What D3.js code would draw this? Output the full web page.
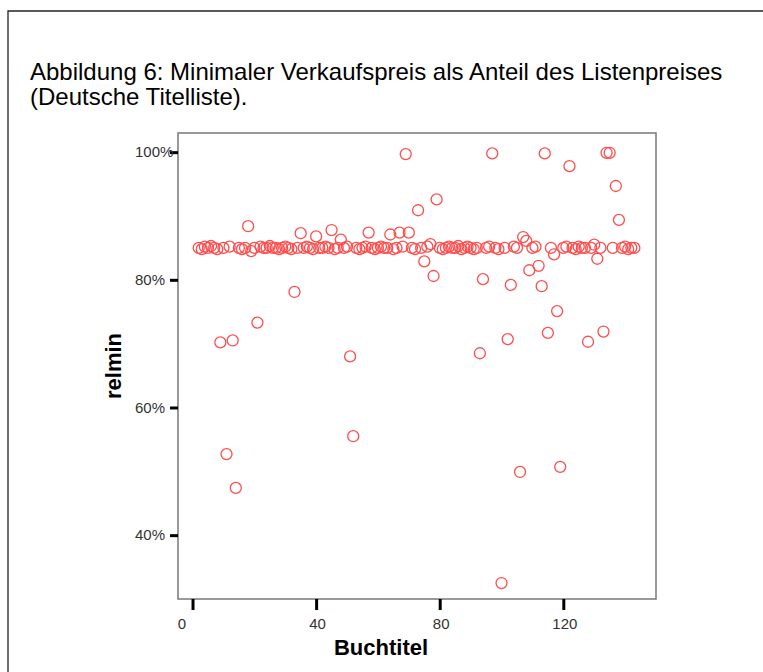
<!DOCTYPE html>
<html>
<head>
<meta charset="utf-8">
<script src="https://cdn.jsdelivr.net/npm/d3@7"></script>
<style>
  html, body { margin: 0; padding: 0; background: #fff; }
  svg { display: block; }
</style>
</head>
<body>
<svg id="chart" width="763" height="672"></svg>
<script>
// ---- data ----
const titleLines = [
  "Abbildung 6: Minimaler Verkaufspreis als Anteil des Listenpreises",
  "(Deutsche Titelliste)."
];
const xTicks = [0, 40, 80, 120];
const yTicks = [0.4, 0.6, 0.8, 1.0];
const xLabel = "Buchtitel";
const yLabel = "relmin";
const firstTitle = 2;
// relmin for Buchtitel 2 .. 143 (rows of 10)
const relmin = [
  0.850, 0.848, 0.852, 0.850, 0.853, 0.850, 0.848, 0.702, 0.850, 0.527, // 2-11
  0.852, 0.705, 0.474, 0.850, 0.848, 0.850, 0.884, 0.845, 0.850, 0.733, // 12-21
  0.852, 0.850, 0.850, 0.853, 0.850, 0.850, 0.848, 0.850, 0.852, 0.850, // 22-31
  0.848, 0.781, 0.850, 0.873, 0.850, 0.852, 0.850, 0.848, 0.868, 0.850, // 32-41
  0.850, 0.852, 0.850, 0.878, 0.848, 0.850, 0.863, 0.850, 0.852, 0.680, // 42-51
  0.555, 0.850, 0.848, 0.850, 0.852, 0.874, 0.850, 0.848, 0.850, 0.852, // 52-61
  0.850, 0.850, 0.871, 0.848, 0.850, 0.874, 0.852, 0.997, 0.874, 0.850, // 62-71
  0.848, 0.909, 0.850, 0.829, 0.852, 0.856, 0.806, 0.926, 0.850, 0.848, // 72-81
  0.850, 0.852, 0.850, 0.850, 0.853, 0.848, 0.850, 0.852, 0.850, 0.848, // 82-91
  0.850, 0.685, 0.801, 0.850, 0.852, 0.998, 0.850, 0.848, 0.325, 0.850, // 92-101
  0.707, 0.792, 0.852, 0.850, 0.499, 0.867, 0.861, 0.815, 0.850, 0.852, // 102-111
  0.822, 0.790, 0.998, 0.717, 0.850, 0.840, 0.751, 0.507, 0.850, 0.852, // 112-121
  0.978, 0.850, 0.848, 0.852, 0.850, 0.850, 0.703, 0.850, 0.855, 0.833, // 122-131
  0.850, 0.719, 0.999, 0.999, 0.850, 0.947, 0.894, 0.850, 0.852, 0.848, // 132-141
  0.850, 0.850                                                          // 142-143
];
const points = relmin.map((v, i) => ({ title: firstTitle + i, value: v }));

// ---- layout ----
const svg = d3.select("#chart");
const plot = { left: 178, right: 656, top: 133, bottom: 599 };

const x = d3.scaleLinear().domain([-4.7, 150]).range([plot.left, plot.right]);
const y = d3.scaleLinear().domain([0.30, 1.03]).range([plot.bottom, plot.top]);

// outer frame (only top and left visible)
svg.append("path")
  .attr("d", "M8,700 L8,11 L800,11")
  .attr("fill", "none").attr("stroke", "#222").attr("stroke-width", 1.3);

// title
const title = svg.append("text")
  .attr("font-family", "'Liberation Sans', Arial, sans-serif")
  .attr("font-size", 24).attr("fill", "#000");
titleLines.forEach((t, i) => {
  title.append("tspan").attr("x", 30).attr("y", 80 + i * 25).text(t);
});

// plot frame
svg.append("rect")
  .attr("x", plot.left).attr("y", plot.top)
  .attr("width", plot.right - plot.left).attr("height", plot.bottom - plot.top)
  .attr("fill", "none").attr("stroke", "#808080").attr("stroke-width", 1.6);

// y axis
const yAxis = d3.axisLeft(y).tickValues(yTicks).tickSize(8)
  .tickFormat(d3.format(".0%"));
const gy = svg.append("g").attr("transform", `translate(${plot.left},0)`).call(yAxis);
gy.select(".domain").remove();
gy.selectAll(".tick line").attr("stroke", "#000").attr("stroke-width", 3);
gy.selectAll(".tick text")
  .attr("x", -43).attr("text-anchor", "start")
  .attr("font-family", "'Liberation Sans', Arial, sans-serif")
  .attr("font-size", 15).attr("fill", "#333");

// x axis
const xAxis = d3.axisBottom(x).tickValues(xTicks).tickSize(11)
  .tickFormat(d3.format("d"));
const gx = svg.append("g").attr("transform", `translate(0,${plot.bottom})`).call(xAxis);
gx.select(".domain").remove();
gx.selectAll(".tick line").attr("stroke", "#000").attr("stroke-width", 3);
gx.selectAll(".tick text")
  .attr("y", 19)
  .attr("dx", d => d === 0 ? -11 : 1)
  .attr("font-family", "'Liberation Sans', Arial, sans-serif")
  .attr("font-size", 15).attr("fill", "#333");

// axis titles
svg.append("text")
  .attr("x", 381).attr("y", 655)
  .attr("text-anchor", "middle")
  .attr("font-family", "'Liberation Sans', Arial, sans-serif")
  .attr("font-weight", "bold").attr("font-size", 22).attr("fill", "#000")
  .text(xLabel);

svg.append("text")
  .attr("transform", "translate(121,366) rotate(-90)")
  .attr("text-anchor", "middle")
  .attr("font-family", "'Liberation Sans', Arial, sans-serif")
  .attr("font-weight", "bold").attr("font-size", 22).attr("fill", "#000")
  .text(yLabel);

// points
svg.append("g")
  .selectAll("circle")
  .data(points)
  .join("circle")
  .attr("cx", d => x(d.title))
  .attr("cy", d => y(d.value))
  .attr("r", 5.5)
  .attr("fill", "none")
  .attr("stroke", "#ff4d4d")
  .attr("stroke-width", 1.3);
</script>
</body>
</html>
